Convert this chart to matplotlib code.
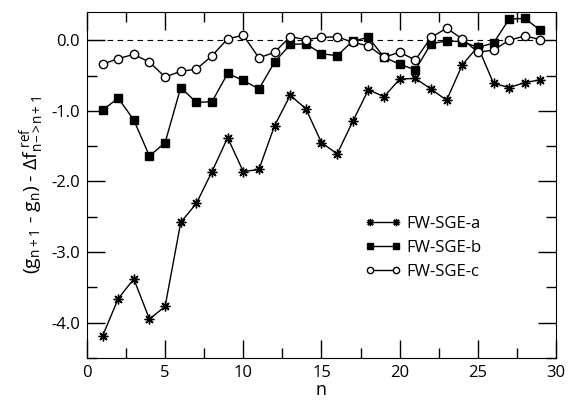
import numpy as np
import matplotlib
matplotlib.use('Agg')
import matplotlib.pyplot as plt
from matplotlib.ticker import MultipleLocator, FormatStrFormatter

plt.rcParams['font.family'] = ['Open Sans', 'DejaVu Sans']
plt.rcParams['mathtext.fontset'] = 'custom'
plt.rcParams['mathtext.rm'] = 'Open Sans'
plt.rcParams['mathtext.it'] = 'Open Sans'
plt.rcParams['mathtext.default'] = 'regular'

n = np.arange(1, 30)

# FW-SGE-a (asterisks)
sge_a = [-4.19, -3.66, -3.38, -3.95, -3.77, -2.58, -2.31, -1.86, -1.38, -1.86,
         -1.83, -1.21, -0.78, -0.97, -1.45, -1.61, -1.15, -0.70, -0.80, -0.55,
         -0.54, -0.69, -0.85, -0.35, -0.09, -0.61, -0.67, -0.60, -0.56]
# FW-SGE-b (filled squares)
sge_b = [-0.99, -0.82, -1.13, -1.64, -1.45, -0.67, -0.88, -0.87, -0.47, -0.57,
         -0.69, -0.31, -0.06, -0.05, -0.19, -0.22, -0.01, 0.04, -0.24, -0.34,
         -0.42, -0.05, -0.01, -0.02, -0.10, -0.04, 0.30, 0.31, 0.14]
# FW-SGE-c (open circles)
sge_c = [-0.34, -0.26, -0.20, -0.31, -0.52, -0.44, -0.41, -0.22, 0.02, 0.07,
         -0.25, -0.17, 0.05, 0.01, 0.04, 0.05, -0.03, -0.08, -0.24, -0.17,
         -0.28, 0.04, 0.17, 0.02, -0.17, -0.14, 0.00, 0.06, 0.01]

fig = plt.figure(figsize=(5.68, 4.0), dpi=100)
ax = fig.add_axes([0.153, 0.105, 0.826, 0.865])

ax.axhline(0, color='k', lw=0.8, ls=(0, (5, 4)), zorder=1)

ax.plot(n, sge_a, 'k-', lw=1, marker=(8, 2, 0), ms=7, mew=1, label='FW-SGE-a')
ax.plot(n, sge_b, 'k-', lw=1, marker='s', ms=5.5, label='FW-SGE-b')
ax.plot(n, sge_c, 'k-', lw=1, marker='o', ms=6, mfc='white', mew=1, label='FW-SGE-c')

ax.set_xlim(0, 30)
ax.set_ylim(-4.5, 0.4)
ax.xaxis.set_major_locator(MultipleLocator(5))
ax.xaxis.set_minor_locator(MultipleLocator(2.5))
ax.yaxis.set_major_locator(MultipleLocator(1))
ax.yaxis.set_minor_locator(MultipleLocator(0.5))
ax.yaxis.set_major_formatter(FormatStrFormatter('%.1f'))
ax.tick_params(which='both', direction='in', top=True, right=True, width=1)
ax.tick_params(which='major', length=13, labelsize=12, pad=5)
ax.tick_params(which='minor', length=7)

ax.set_xlabel('n', fontsize=13, labelpad=0)
ax.set_ylabel(r'$(g_{n+1}$ - $g_n)$ - $\Delta f^{\ ref}_{n\!-\!>\!n+1}$', fontsize=14, labelpad=4)

ax.legend(loc='upper left', bbox_to_anchor=(0.56, 0.455), frameon=False, numpoints=2,
          markerscale=0.75, handlelength=2.2, handletextpad=0.3, labelspacing=0.5, fontsize=12)

plt.savefig('out.png', dpi=100)
